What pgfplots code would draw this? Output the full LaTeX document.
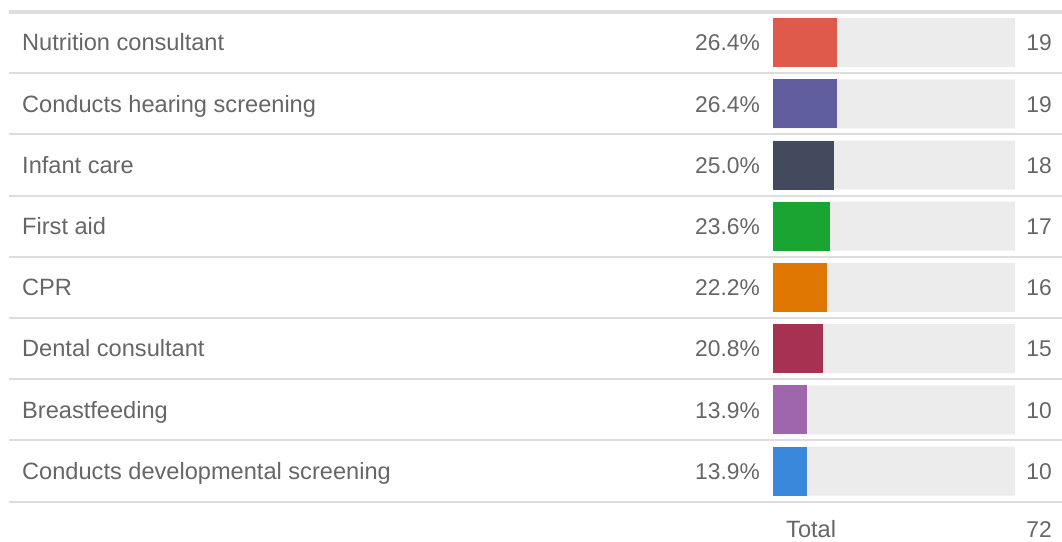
\documentclass[border=0pt]{standalone}
\usepackage{fontspec}
\setmainfont{Liberation Sans}
\usepackage{pgfplots}
\usepackage{pgfplotstable}
\pgfplotsset{compat=1.18}
\definecolor{txt}{HTML}{666666}
\definecolor{sep}{HTML}{DDDDDD}
\definecolor{bgc}{HTML}{ECECEC}
\definecolor{c0}{HTML}{DF5A4B}
\definecolor{c1}{HTML}{605E9F}
\definecolor{c2}{HTML}{434A5E}
\definecolor{c3}{HTML}{1AA533}
\definecolor{c4}{HTML}{E07702}
\definecolor{c5}{HTML}{A63150}
\definecolor{c6}{HTML}{A066AD}
\definecolor{c7}{HTML}{3A88DB}

\pgfplotstableread[col sep=comma]{
idx,pct,n,label
0,26.4,19,Nutrition consultant
1,26.4,19,Conducts hearing screening
2,25.0,18,Infant care
3,23.6,17,First aid
4,22.2,16,CPR
5,20.8,15,Dental consultant
6,13.9,10,Breastfeeding
7,13.9,10,Conducts developmental screening
}\datatable

\newcommand{\lblfont}{\fontsize{23.6}{28}\selectfont}
\newcommand{\numfont}{\fontsize{22.8}{28}\selectfont}
\newcommand{\onebar}[3]{%
  \addplot[xbar, bar width=49pt, bar shift=0pt, draw=none, fill=#3]
    table[x=pct, y=idx, skip coords between index={0}{#1}, skip coords between index={#2}{8}] {\datatable};
}

\begin{document}
\begin{tikzpicture}
\useasboundingbox (0,0) rectangle (1062pt,-541pt);
\begin{axis}[
  at={(773pt,-12pt)}, anchor=north west,
  width=242pt, height=489.6pt, scale only axis,
  xmin=0, xmax=100, ymin=-0.5, ymax=7.5,
  y dir=reverse, hide axis, clip=false,
  every node near coord/.append style={text=txt, text height=16.5pt, text depth=0pt, inner sep=0pt},
]
% separators
\draw[sep, line width=4pt] ([xshift=-764pt]axis cs:0,-0.5) -- ([xshift=47pt]axis cs:100,-0.5);
\pgfplotsinvokeforeach{0.5,1.5,2.5,3.5,4.5,5.5,6.5,7.5}{
  \draw[sep, line width=2pt] ([xshift=-764pt]axis cs:0,#1) -- ([xshift=47pt]axis cs:100,#1);
}
% background bars with counts
\addplot[xbar, bar width=49pt, bar shift=0pt, draw=none, fill=bgc,
  point meta=explicit symbolic, nodes near coords,
  every node near coord/.append style={anchor=east, xshift=37pt, font=\numfont}]
  table[x expr=100, y=idx, meta=n] {\datatable};
% coloured bars
\onebar{0}{1}{c0}
\onebar{1}{2}{c1}
\onebar{2}{3}{c2}
\onebar{3}{4}{c3}
\onebar{4}{5}{c4}
\onebar{5}{6}{c5}
\onebar{6}{7}{c6}
\onebar{7}{8}{c7}
% percentages
\addplot[xbar, bar width=0pt, bar shift=0pt, draw=none, fill=none,
  point meta=explicit symbolic, nodes near coords={\pgfplotspointmeta\%},
  every node near coord/.append style={anchor=east, xshift=-13pt, font=\numfont}]
  table[x expr=0, y=idx, meta=pct] {\datatable};
% category labels
\addplot[xbar, bar width=0pt, bar shift=0pt, draw=none, fill=none,
  point meta=explicit symbolic, nodes near coords,
  every node near coord/.append style={anchor=west, xshift=-751pt, font=\lblfont}]
  table[x expr=0, y=idx, meta=label] {\datatable};
% total row
\node[anchor=west, text=txt, font=\lblfont, text height=16.5pt, text depth=0pt, inner sep=0pt, xshift=13pt] at (axis cs:0,7.95) {Total};
\node[anchor=east, text=txt, font=\numfont, text height=16.5pt, text depth=0pt, inner sep=0pt, xshift=37pt] at (axis cs:100,7.95) {72};
\end{axis}
\end{tikzpicture}
\end{document}
